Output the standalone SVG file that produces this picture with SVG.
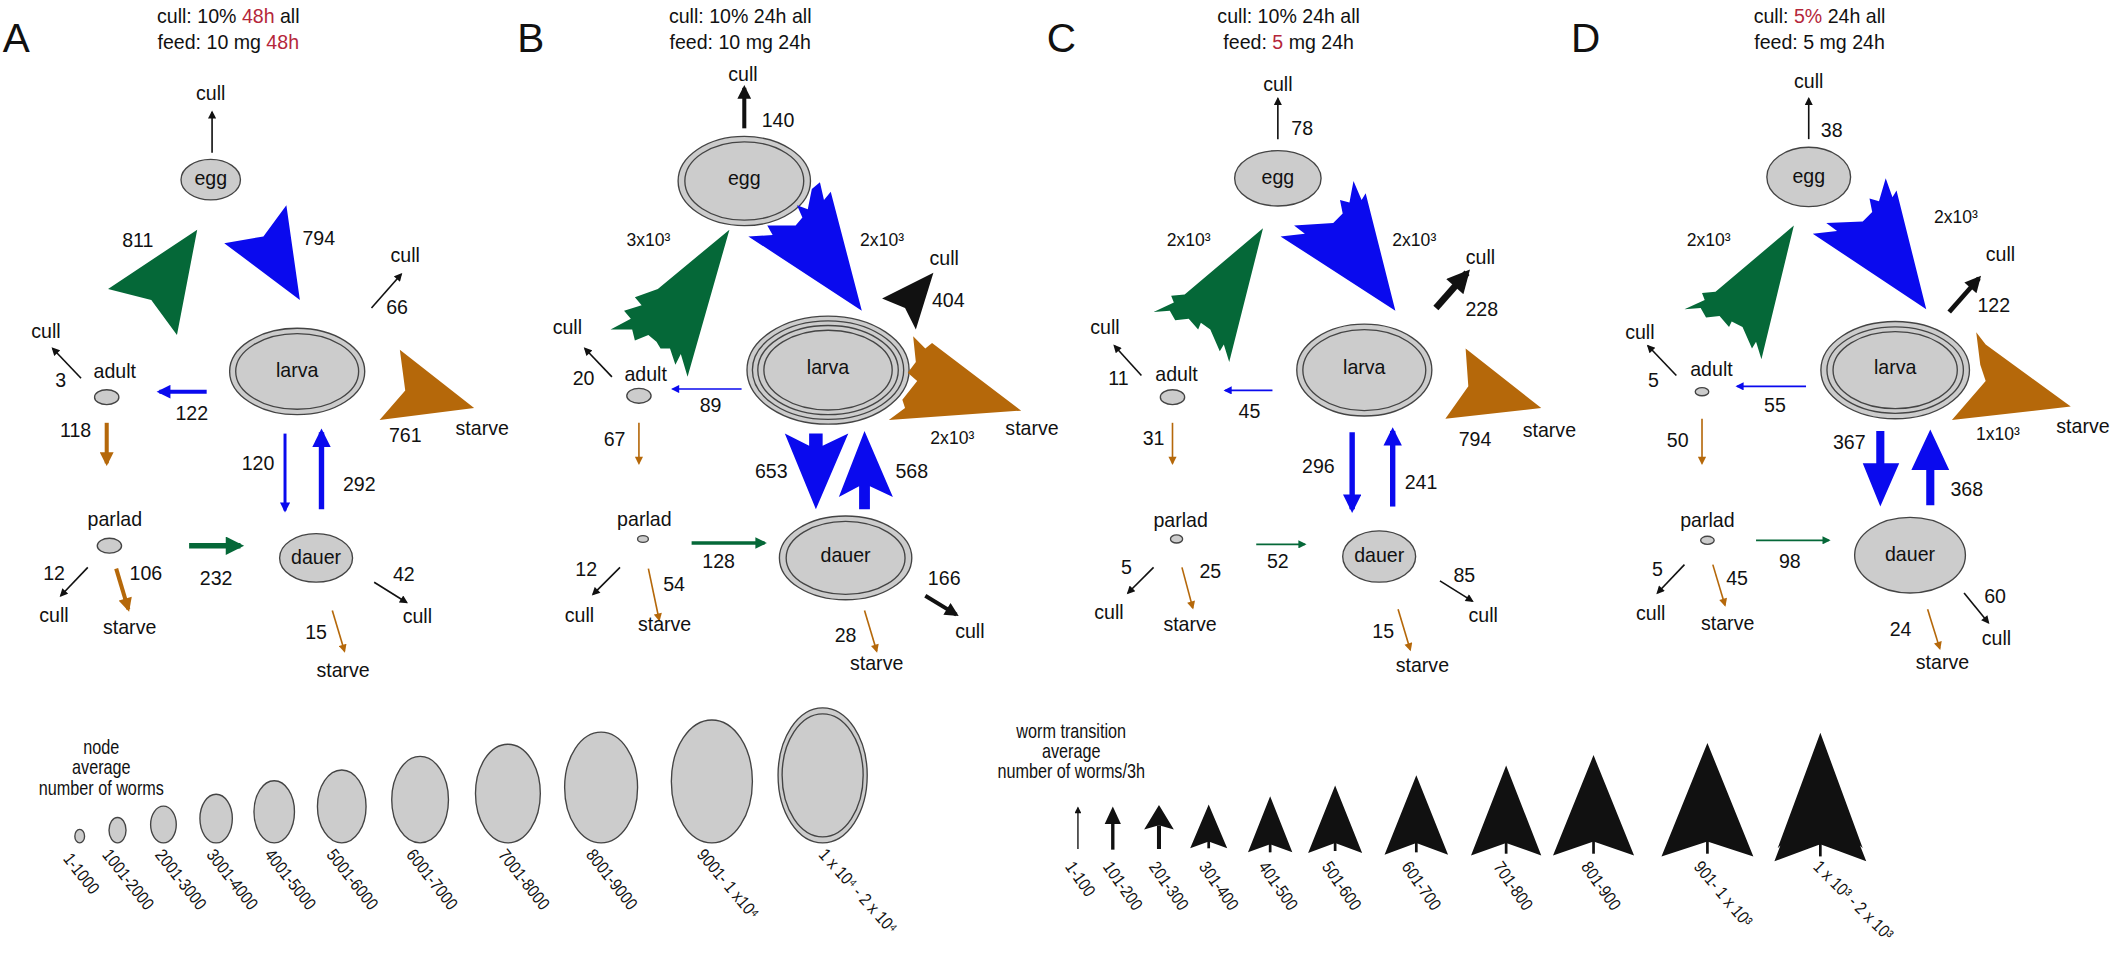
<svg xmlns="http://www.w3.org/2000/svg" width="2118" height="957" viewBox="0 0 2118 957">
<style>
text{font-family:"Liberation Sans",Arial,sans-serif;font-size:14.5px;fill:#111;dominant-baseline:central;text-anchor:middle}
.pl{font-size:30px;text-anchor:start}
.ti{font-size:14.5px}
.sm{font-size:13px}
.red{fill:#b5263a}
.lg{font-size:13px;text-anchor:start}
.lt{font-size:15px}
.nd{fill:#cccccc;stroke:#444;stroke-width:1}
.ring{fill:none;stroke:#444;stroke-width:1}
.k{stroke:#111;fill:none}
.b{stroke:#0a0aee;fill:none}
.g{stroke:#056838;fill:none}
.o{stroke:#b5680a;fill:none}
.fb{fill:#0a0aee}.fg{fill:#056838}.fo{fill:#b5680a}.fk{fill:#111}
</style>
<defs>
<marker id="mk" viewBox="0 0 10 10" refX="8" refY="5" markerWidth="6" markerHeight="5" orient="auto" markerUnits="strokeWidth"><path d="M0,0L10,5L0,10z" fill="#111"/></marker>
<marker id="mb" viewBox="0 0 10 10" refX="8" refY="5" markerWidth="6" markerHeight="5" orient="auto" markerUnits="strokeWidth"><path d="M0,0L10,5L0,10z" fill="#0a0aee"/></marker>
<marker id="mg" viewBox="0 0 10 10" refX="8" refY="5" markerWidth="6" markerHeight="5" orient="auto" markerUnits="strokeWidth"><path d="M0,0L10,5L0,10z" fill="#056838"/></marker>
<marker id="mo" viewBox="0 0 10 10" refX="8" refY="5" markerWidth="6" markerHeight="5" orient="auto" markerUnits="strokeWidth"><path d="M0,0L10,5L0,10z" fill="#b5680a"/></marker>
<marker id="Mk" viewBox="0 0 10 10" refX="8" refY="5" markerWidth="3.6" markerHeight="3.4" orient="auto" markerUnits="strokeWidth"><path d="M0,0L10,5L0,10z" fill="#111"/></marker>
<marker id="Mb" viewBox="0 0 10 10" refX="8" refY="5" markerWidth="3.6" markerHeight="3.4" orient="auto" markerUnits="strokeWidth"><path d="M0,0L10,5L0,10z" fill="#0a0aee"/></marker>
<marker id="Mg" viewBox="0 0 10 10" refX="8" refY="5" markerWidth="3.6" markerHeight="3.4" orient="auto" markerUnits="strokeWidth"><path d="M0,0L10,5L0,10z" fill="#056838"/></marker>
<marker id="Mo" viewBox="0 0 10 10" refX="8" refY="5" markerWidth="3.6" markerHeight="3.4" orient="auto" markerUnits="strokeWidth"><path d="M0,0L10,5L0,10z" fill="#b5680a"/></marker>
</defs>
<rect width="2118" height="957" fill="#fff"/>
<g transform="scale(1.3508)">

<!-- ================= PANEL A ================= -->
<g id="panelA">
<text class="pl" x="2" y="28">A</text>
<text class="ti" x="169" y="12">cull: 10% <tspan class="red">48h</tspan> all</text>
<text class="ti" x="169" y="31">feed: 10 mg <tspan class="red">48h</tspan></text>
<g id="A-egg"><ellipse class="nd" cx="156" cy="133" rx="22" ry="15"/><text x="156" y="132">egg</text></g>
<g id="A-larva"><ellipse class="nd" cx="220" cy="275" rx="50" ry="32"/><ellipse class="ring" cx="220" cy="275" rx="45.5" ry="28"/><text x="220" y="274">larva</text></g>
<g id="A-adult"><ellipse class="nd" cx="79" cy="294" rx="9" ry="5.5" stroke="none"/><text x="85" y="275">adult</text></g>
<g id="A-parlad"><ellipse class="nd" cx="81" cy="404" rx="9" ry="5.5" stroke="none"/><text x="85" y="384">parlad</text></g>
<g id="A-dauer"><ellipse class="nd" cx="234" cy="413" rx="27" ry="18"/><text x="234" y="412">dauer</text></g>
<g id="A-connectors">
<line class="k" x1="157" y1="113" x2="157" y2="83" stroke-width="1.2" marker-end="url(#mk)"/>
<polygon class="fg" points="146,170 131,248 112,222 80,214"/>
<polygon class="fb" points="222,222 166,180 195,175 212,152"/>
<line class="k" x1="275" y1="228" x2="297" y2="203" stroke-width="1.2" marker-end="url(#mk)"/>
<polygon class="fo" points="351,302 281,311 300,289 296,259"/>
<line class="k" x1="60" y1="280" x2="39" y2="258" stroke-width="1.2" marker-end="url(#mk)"/>
<line class="b" x1="153" y1="290" x2="118" y2="290" stroke-width="3" marker-end="url(#Mb)"/>
<line class="o" x1="79" y1="313" x2="79" y2="343" stroke-width="3" marker-end="url(#Mo)"/>
<line class="k" x1="65" y1="420" x2="45" y2="441" stroke-width="1.2" marker-end="url(#mk)"/>
<line class="o" x1="86" y1="421" x2="95" y2="451" stroke-width="3" marker-end="url(#Mo)"/>
<line class="g" x1="140" y1="404" x2="178" y2="404" stroke-width="4" marker-end="url(#Mg)"/>
<line class="b" x1="211" y1="321" x2="211" y2="378" stroke-width="2.2" marker-end="url(#Mb)"/>
<line class="b" x1="238" y1="377" x2="238" y2="320" stroke-width="4" marker-end="url(#Mb)"/>
<line class="k" x1="277" y1="431" x2="301" y2="446" stroke-width="1.2" marker-end="url(#mk)"/>
<line class="o" x1="246" y1="452" x2="255" y2="482" stroke-width="1.2" marker-end="url(#mo)"/>
</g>
<text x="156" y="69">cull</text>
<text x="102" y="178">811</text><text x="236" y="176">794</text>
<text x="300" y="189">cull</text><text x="294" y="227">66</text>
<text x="300" y="322">761</text><text x="357" y="317">starve</text>
<text x="34" y="245">cull</text><text x="45" y="281">3</text>
<text x="142" y="306">122</text><text x="56" y="318">118</text>
<text x="40" y="424">12</text><text x="40" y="455">cull</text>
<text x="108" y="424">106</text><text x="96" y="464">starve</text>
<text x="160" y="428">232</text>
<text x="191" y="343">120</text><text x="266" y="358">292</text>
<text x="299" y="425">42</text><text x="309" y="456">cull</text>
<text x="234" y="468">15</text><text x="254" y="496">starve</text>
</g>

<!-- ================= PANEL B ================= -->
<g id="panelB">
<text class="pl" x="383" y="28">B</text>
<text class="ti" x="548" y="12">cull: 10% 24h all</text>
<text class="ti" x="548" y="31">feed: 10 mg 24h</text>
<g id="B-egg"><ellipse class="nd" cx="551" cy="134" rx="49" ry="33"/><ellipse class="ring" cx="551" cy="134" rx="44" ry="29"/><text x="551" y="132">egg</text></g>
<g id="B-larva"><ellipse class="nd" cx="613" cy="274" rx="60" ry="40"/><ellipse class="ring" cx="613" cy="274" rx="56" ry="36.5"/><ellipse class="ring" cx="613" cy="274" rx="52" ry="33"/><ellipse class="ring" cx="613" cy="274" rx="47.5" ry="29.5"/><text x="613" y="272">larva</text></g>
<g id="B-adult"><ellipse class="nd" cx="473" cy="293" rx="9" ry="5.5" stroke="none"/><text x="478" y="277">adult</text></g>
<g id="B-parlad"><ellipse class="nd" cx="476" cy="399" rx="4" ry="2.5" stroke="none"/><text x="477" y="384">parlad</text></g>
<g id="B-dauer"><ellipse class="nd" cx="626" cy="413" rx="49" ry="31"/><ellipse class="ring" cx="626" cy="413" rx="44" ry="27"/><text x="626" y="411">dauer</text></g>
<g id="B-connectors">
<line class="k" x1="551" y1="95" x2="551" y2="65" stroke-width="3" marker-end="url(#Mk)"/>
<polygon class="fg" points="540,170 509,279 504,262 500,270 496,258 489,258 486,253 480,248 470,252 468,244 452,244 467,236 462,230 475,226 470,220 487,214"/>
<polygon class="fb" points="638,230 554,175 572,174 568,167 589,167 594,161 590,152 598,155 601,140 607,135 610,148 615,142"/>
<polygon class="fk" points="691,202 678,244 670,228 653,221"/>
<polygon class="fo" points="756,304 658,311 670,302 668,296 679,282 672,276 678,268 676,249 685,258 690,254"/>
<line class="k" x1="453" y1="279" x2="433" y2="258" stroke-width="1.2" marker-end="url(#mk)"/>
<line class="b" x1="549" y1="288" x2="498" y2="288" stroke-width="1.2" marker-end="url(#mb)"/>
<line class="o" x1="473" y1="313" x2="473" y2="343" stroke-width="1.2" marker-end="url(#mo)"/>
<line class="k" x1="459" y1="420" x2="439" y2="440" stroke-width="1.2" marker-end="url(#mk)"/>
<line class="o" x1="480" y1="421" x2="488" y2="459" stroke-width="1.2" marker-end="url(#mo)"/>
<line class="g" x1="512" y1="402" x2="566" y2="402" stroke-width="2.5" marker-end="url(#Mg)"/>
<polygon class="fb" points="581,321 599,330 599,321 609,321 609,330 628,321 604,377"/>
<polygon class="fb" points="640,319 661,368 644,360 644,377 636,377 636,360 621,368"/>
<line class="k" x1="685" y1="441" x2="708" y2="455" stroke-width="3" marker-end="url(#Mk)"/>
<line class="o" x1="640" y1="452" x2="649" y2="482" stroke-width="1.2" marker-end="url(#mo)"/>
</g>
<text x="550" y="55">cull</text><text x="576" y="89">140</text>
<text class="sm" x="480" y="178">3x10³</text><text class="sm" x="653" y="178">2x10³</text>
<text x="699" y="191">cull</text><text x="702" y="222">404</text>
<text class="sm" x="705" y="324">2x10³</text><text x="764" y="317">starve</text>
<text x="420" y="242">cull</text><text x="432" y="280">20</text>
<text x="526" y="300">89</text><text x="455" y="325">67</text>
<text x="434" y="421">12</text><text x="429" y="455">cull</text>
<text x="499" y="432">54</text><text x="492" y="462">starve</text>
<text x="532" y="415">128</text>
<text x="571" y="349">653</text><text x="675" y="349">568</text>
<text x="699" y="428">166</text><text x="718" y="467">cull</text>
<text x="626" y="470">28</text><text x="649" y="491">starve</text>
</g>

<!-- ================= PANEL C ================= -->
<g id="panelC">
<text class="pl" x="775" y="28">C</text>
<text class="ti" x="954" y="12">cull: 10% 24h all</text>
<text class="ti" x="954" y="31">feed: <tspan class="red">5</tspan> mg 24h</text>
<g id="C-egg"><ellipse class="nd" cx="946" cy="132" rx="32" ry="20.5"/><text x="946" y="131">egg</text></g>
<g id="C-larva"><ellipse class="nd" cx="1010" cy="274" rx="50" ry="34"/><ellipse class="ring" cx="1010" cy="274" rx="45.5" ry="30"/><text x="1010" y="272">larva</text></g>
<g id="C-adult"><ellipse class="nd" cx="868" cy="294" rx="9" ry="5.5" stroke="none"/><text x="871" y="277">adult</text></g>
<g id="C-parlad"><ellipse class="nd" cx="871" cy="399" rx="4.5" ry="3" stroke="none"/><text x="874" y="385">parlad</text></g>
<g id="C-dauer"><ellipse class="nd" cx="1021" cy="412" rx="27" ry="19"/><text x="1021" y="411">dauer</text></g>
<g id="C-connectors">
<line class="k" x1="946" y1="103" x2="946" y2="73" stroke-width="1.2" marker-end="url(#mk)"/>
<polygon class="fg" points="935,169 910,268 906,255 903,260 896,244 889,239 887,244 880,236 870,237 866,230 854,231 869,224 867,219 877,218"/>
<polygon class="fb" points="1033,230 948,175 966,173 958,167 987,165 994,158 992,148 999,150 1002,134 1008,148 1011,143"/>
<line class="k" x1="1063" y1="228" x2="1086" y2="202" stroke-width="5" marker-end="url(#Mk)"/>
<polygon class="fo" points="1141,302 1070,310 1087,286 1085,258"/>
<line class="k" x1="845" y1="278" x2="825" y2="256" stroke-width="1.2" marker-end="url(#mk)"/>
<line class="b" x1="942" y1="289" x2="907" y2="289" stroke-width="1.2" marker-end="url(#mb)"/>
<line class="o" x1="868" y1="313" x2="868" y2="343" stroke-width="1.2" marker-end="url(#mo)"/>
<line class="k" x1="854" y1="420" x2="835" y2="439" stroke-width="1.2" marker-end="url(#mk)"/>
<line class="o" x1="875" y1="420" x2="883" y2="450" stroke-width="1.2" marker-end="url(#mo)"/>
<line class="g" x1="930" y1="403" x2="966" y2="403" stroke-width="1.2" marker-end="url(#mg)"/>
<line class="b" x1="1001" y1="320" x2="1001" y2="377" stroke-width="4" marker-end="url(#Mb)"/>
<line class="b" x1="1031" y1="375" x2="1031" y2="319" stroke-width="4" marker-end="url(#Mb)"/>
<line class="k" x1="1066" y1="430" x2="1090" y2="445" stroke-width="1.2" marker-end="url(#mk)"/>
<line class="o" x1="1035" y1="451" x2="1044" y2="481" stroke-width="1.2" marker-end="url(#mo)"/>
</g>
<text x="946" y="62">cull</text><text x="964" y="95">78</text>
<text class="sm" x="880" y="178">2x10³</text><text class="sm" x="1047" y="178">2x10³</text>
<text x="1096" y="190">cull</text><text x="1097" y="229">228</text>
<text x="1092" y="325">794</text><text x="1147" y="318">starve</text>
<text x="818" y="242">cull</text><text x="828" y="280">11</text>
<text x="925" y="304">45</text><text x="854" y="324">31</text>
<text x="834" y="420">5</text><text x="821" y="453">cull</text>
<text x="896" y="423">25</text><text x="881" y="462">starve</text>
<text x="946" y="415">52</text>
<text x="976" y="345">296</text><text x="1052" y="357">241</text>
<text x="1084" y="426">85</text><text x="1098" y="455">cull</text>
<text x="1024" y="467">15</text><text x="1053" y="492">starve</text>
</g>

<!-- ================= PANEL D ================= -->
<g id="panelD">
<text class="pl" x="1163" y="28">D</text>
<text class="ti" x="1347" y="12">cull: <tspan class="red">5%</tspan> 24h all</text>
<text class="ti" x="1347" y="31">feed: 5 mg 24h</text>
<g id="D-egg"><ellipse class="nd" cx="1339" cy="131" rx="31" ry="22"/><text x="1339" y="130">egg</text></g>
<g id="D-larva"><ellipse class="nd" cx="1403" cy="274" rx="55" ry="36"/><ellipse class="ring" cx="1403" cy="274" rx="50.5" ry="32"/><ellipse class="ring" cx="1403" cy="274" rx="46" ry="28.5"/><text x="1403" y="272">larva</text></g>
<g id="D-adult"><ellipse class="nd" cx="1260" cy="290" rx="5" ry="3" stroke="none"/><text x="1267" y="273">adult</text></g>
<g id="D-parlad"><ellipse class="nd" cx="1264" cy="400" rx="5" ry="3" stroke="none"/><text x="1264" y="385">parlad</text></g>
<g id="D-dauer"><ellipse class="nd" cx="1414" cy="411" rx="41" ry="28"/><text x="1414" y="410">dauer</text></g>
<g id="D-connectors">
<line class="k" x1="1339" y1="103" x2="1339" y2="73" stroke-width="1.2" marker-end="url(#mk)"/>
<polygon class="fg" points="1328,167 1304,266 1300,253 1297,258 1290,242 1282,238 1280,242 1273,234 1263,235 1259,228 1247,229 1262,222 1260,217 1270,216"/>
<polygon class="fb" points="1426,229 1342,173 1360,171 1352,165 1379,164 1386,157 1384,147 1391,149 1396,132 1401,146 1404,141"/>
<line class="k" x1="1443" y1="231" x2="1465" y2="206" stroke-width="3.5" marker-end="url(#Mk)"/>
<polygon class="fo" points="1533,301 1445,311 1470,282 1466,270 1463,246 1470,255"/>
<line class="k" x1="1241" y1="278" x2="1220" y2="256" stroke-width="1.2" marker-end="url(#mk)"/>
<line class="b" x1="1337" y1="286" x2="1286" y2="286" stroke-width="1.2" marker-end="url(#mb)"/>
<line class="o" x1="1260" y1="310" x2="1260" y2="343" stroke-width="1.2" marker-end="url(#mo)"/>
<line class="k" x1="1247" y1="418" x2="1227" y2="439" stroke-width="1.2" marker-end="url(#mk)"/>
<line class="o" x1="1268" y1="418" x2="1277" y2="448" stroke-width="1.2" marker-end="url(#mo)"/>
<line class="g" x1="1300" y1="400" x2="1354" y2="400" stroke-width="1.2" marker-end="url(#mg)"/>
<polygon class="fb" points="1389,319 1395,319 1395,343 1406,343 1392,375 1379,343 1389,343"/>
<polygon class="fb" points="1426,374 1432,374 1432,348 1443,348 1429,318 1415,348 1426,348"/>
<line class="k" x1="1454" y1="439" x2="1472" y2="461" stroke-width="1.2" marker-end="url(#mk)"/>
<line class="o" x1="1427" y1="451" x2="1436" y2="480" stroke-width="1.2" marker-end="url(#mo)"/>
</g>
<text x="1339" y="60">cull</text><text x="1356" y="96">38</text>
<text class="sm" x="1265" y="178">2x10³</text><text class="sm" x="1448" y="161">2x10³</text>
<text x="1481" y="188">cull</text><text x="1476" y="226">122</text>
<text class="sm" x="1479" y="321">1x10³</text><text x="1542" y="315">starve</text>
<text x="1214" y="246">cull</text><text x="1224" y="281">5</text>
<text x="1314" y="300">55</text><text x="1242" y="326">50</text>
<text x="1227" y="421">5</text><text x="1222" y="454">cull</text>
<text x="1286" y="428">45</text><text x="1279" y="461">starve</text>
<text x="1325" y="415">98</text>
<text x="1369" y="327">367</text><text x="1456" y="362">368</text>
<text x="1477" y="441">60</text><text x="1478" y="472">cull</text>
<text x="1407" y="466">24</text><text x="1438" y="490">starve</text>
</g>

<!-- ================= LEGEND: nodes ================= -->
<g id="legend-nodes">
<text class="lt" transform="translate(75,553) scale(0.8,1)">node</text>
<text class="lt" transform="translate(75,568) scale(0.8,1)">average</text>
<text class="lt" transform="translate(75,583) scale(0.8,1)">number of worms</text>
<ellipse class="nd" cx="59" cy="619" rx="3.6" ry="5" stroke="none"/>
<ellipse class="nd" cx="87" cy="614.6" rx="6.3" ry="9.4" stroke="none"/>
<ellipse class="nd" cx="121" cy="610.4" rx="9.5" ry="13.6" stroke-width="0.7"/>
<ellipse class="nd" cx="160" cy="606" rx="12" ry="18" stroke-width="0.7"/>
<ellipse class="nd" cx="203" cy="601" rx="15" ry="23" stroke-width="0.7"/>
<ellipse class="nd" cx="253" cy="597" rx="18" ry="27"/>
<ellipse class="nd" cx="311" cy="592" rx="21" ry="32"/>
<ellipse class="nd" cx="376" cy="587.5" rx="24" ry="36.5"/>
<ellipse class="nd" cx="445" cy="583" rx="27" ry="41"/>
<ellipse class="nd" cx="527" cy="578.5" rx="30" ry="45.5"/>
<ellipse class="nd" cx="609" cy="574" rx="33" ry="50"/>
<ellipse class="ring" cx="609" cy="574" rx="30" ry="45.5"/>
<text class="lg" transform="translate(50,633) rotate(52) scale(0.85,1)">1-1000</text>
<text class="lg" transform="translate(79,630) rotate(52) scale(0.85,1)">1001-2000</text>
<text class="lg" transform="translate(118,630) rotate(52) scale(0.85,1)">2001-3000</text>
<text class="lg" transform="translate(156,630) rotate(52) scale(0.85,1)">3001-4000</text>
<text class="lg" transform="translate(199,630) rotate(52) scale(0.85,1)">4001-5000</text>
<text class="lg" transform="translate(245,630) rotate(52) scale(0.85,1)">5001-6000</text>
<text class="lg" transform="translate(304,630) rotate(52) scale(0.85,1)">6001-7000</text>
<text class="lg" transform="translate(372,630) rotate(52) scale(0.85,1)">7001-8000</text>
<text class="lg" transform="translate(437,630) rotate(52) scale(0.85,1)">8001-9000</text>
<text class="lg" transform="translate(519,630) rotate(50) scale(0.85,1)">9001- 1 x10⁴</text>
<text class="lg" transform="translate(609,630) rotate(48) scale(0.85,1)">1 x 10⁴ - 2 x 10⁴</text>
</g>

<!-- ================= LEGEND: transitions ================= -->
<g id="legend-arrows">
<text class="lt" transform="translate(793,541) scale(0.8,1)">worm transition</text>
<text class="lt" transform="translate(793,556) scale(0.8,1)">average</text>
<text class="lt" transform="translate(793,571) scale(0.8,1)">number of worms/3h</text>
<line class="k" x1="798" y1="628.5" x2="798" y2="598" stroke-width="1" marker-end="url(#mk)"/>
<polygon class="fk" points="823.8,597 829.8,610 817.8,610"/><line class="k" x1="823.8" y1="609" x2="823.8" y2="629" stroke-width="2.5"/>
<polygon class="fk" points="858,596 869,614 858,611 847,614"/><line class="k" x1="858" y1="611" x2="858" y2="628.5" stroke-width="3"/>
<polygon class="fk" points="894.8,595.6 908.5,628 894.8,623 881.1,628"/><line class="k" x1="894.8" y1="622" x2="894.8" y2="628" stroke-width="2"/>
<polygon class="fk" points="940.3,589.5 956.7,631 940.3,625 923.9,631"/><line class="k" x1="940.3" y1="624" x2="940.3" y2="631" stroke-width="2"/>
<polygon class="fk" points="988.4,581.5 1008.4,631.4 988.4,624 968.4,631.4"/><line class="k" x1="988.4" y1="623" x2="988.4" y2="630" stroke-width="2"/>
<polygon class="fk" points="1048.5,574 1072,632.7 1048.5,624 1025,632.7"/><line class="k" x1="1048.5" y1="623" x2="1048.5" y2="631" stroke-width="2"/>
<polygon class="fk" points="1115,566.7 1141,633.4 1115,624 1089,633.4"/><line class="k" x1="1115" y1="623" x2="1115" y2="632" stroke-width="2"/>
<polygon class="fk" points="1179.7,559 1209.7,633.4 1179.7,623 1149.7,633.4"/><line class="k" x1="1179.7" y1="622" x2="1179.7" y2="632" stroke-width="2"/>
<polygon class="fk" points="1264,550 1298,634 1264,623 1230,634"/><line class="k" x1="1264" y1="622" x2="1264" y2="632" stroke-width="2"/>
<polygon class="fk" points="1347.6,542.5 1379,628 1377,626 1381.6,637.6 1347.6,625 1313.6,637.6 1318,626 1316,628"/><line class="k" x1="1347.6" y1="624" x2="1347.6" y2="634" stroke-width="2"/>
<text class="lg" transform="translate(792,639) rotate(55) scale(0.85,1)">1-100</text>
<text class="lg" transform="translate(820,639) rotate(55) scale(0.85,1)">101-200</text>
<text class="lg" transform="translate(854,639) rotate(55) scale(0.85,1)">201-300</text>
<text class="lg" transform="translate(891,639) rotate(55) scale(0.85,1)">301-400</text>
<text class="lg" transform="translate(935,639) rotate(55) scale(0.85,1)">401-500</text>
<text class="lg" transform="translate(982,639) rotate(55) scale(0.85,1)">501-600</text>
<text class="lg" transform="translate(1041,639) rotate(55) scale(0.85,1)">601-700</text>
<text class="lg" transform="translate(1109,639) rotate(55) scale(0.85,1)">701-800</text>
<text class="lg" transform="translate(1174,639) rotate(55) scale(0.85,1)">801-900</text>
<text class="lg" transform="translate(1257,639) rotate(50) scale(0.85,1)">901- 1 x 10³</text>
<text class="lg" transform="translate(1345,639) rotate(45) scale(0.85,1)">1 x 10³ - 2 x 10³</text>
</g>
</g>
</svg>
